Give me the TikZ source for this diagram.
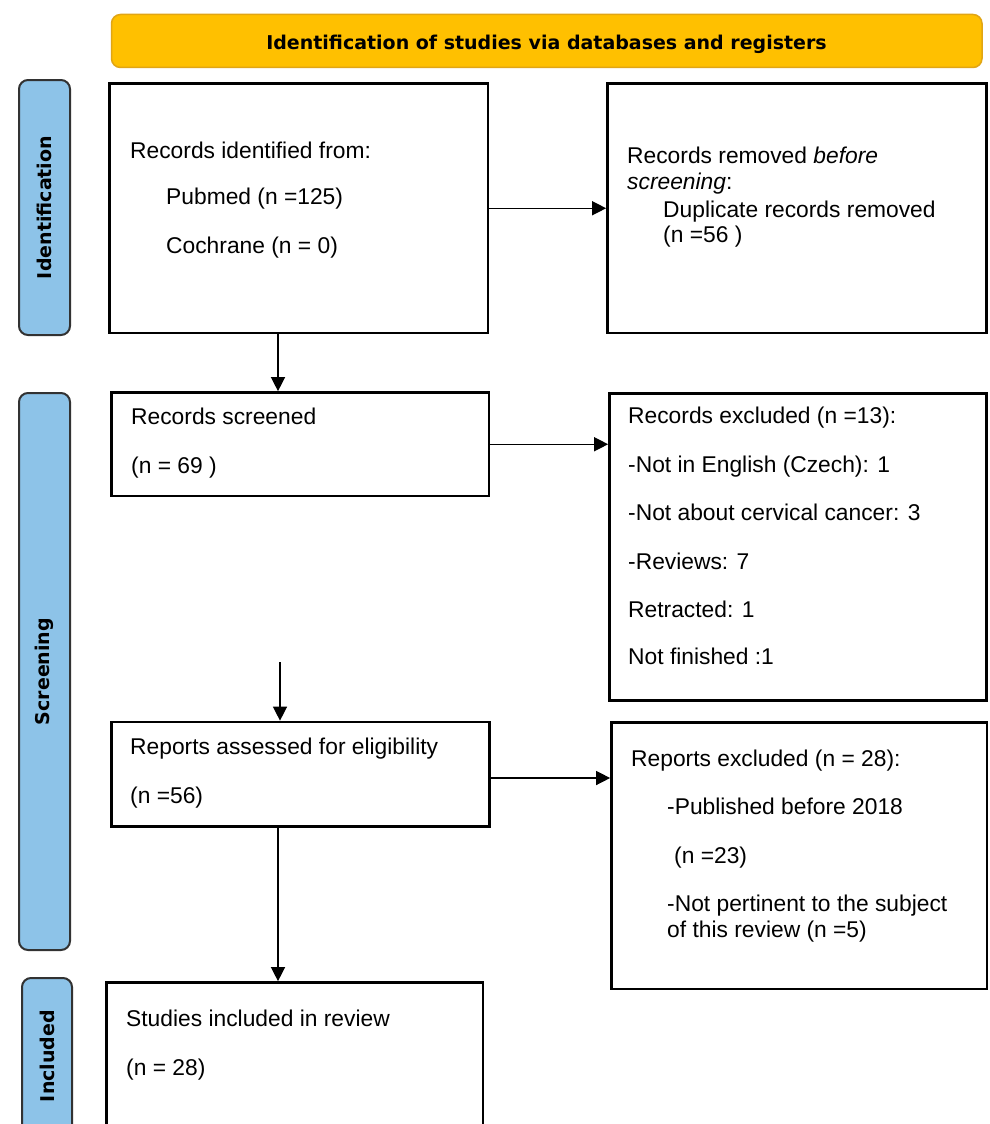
\documentclass[tikz,border=0pt]{standalone}
\usepackage{fontspec}
\setmainfont{Liberation Sans}
\newfontfamily\hdfont{DejaVu Sans}
\usetikzlibrary{arrows.meta,fit}
\definecolor{hdfill}{RGB}{255,192,0}
\definecolor{hddraw}{RGB}{225,165,20}
\definecolor{sidefill}{RGB}{141,195,232}
\definecolor{sidedraw}{RGB}{50,50,50}
\begin{document}
\begin{tikzpicture}[x=1pt,y=-1pt,
 box/.style={draw=black,line width=2.7pt,inner sep=0pt,rectangle},
 hdr/.style={draw=hddraw,fill=hdfill,line width=1.5pt,rounded corners=9pt,inner sep=0pt},
 side/.style={draw=sidedraw,fill=sidefill,line width=2pt,rounded corners=9pt,inner sep=0pt},
 txt/.style={anchor=base west,inner sep=0pt,font=\fontsize{22.8}{27}\selectfont},
 lbl/.style={font=\hdfont\bfseries\fontsize{19}{22}\selectfont,inner sep=0pt},
 arr/.style={-{Triangle[length=14pt,width=14pt]},line width=1.4pt,draw=black}]
\useasboundingbox (0,0) rectangle (989,1124);
\clip (0,0) rectangle (989,1124);
\fill[white] (0,0) rectangle (989,1124);

% header
\node[hdr,fit={(111.5,14.5) (982,67.5)}] (hdr) {};
\node[lbl,anchor=base] (hdrtxt) at (546.5,50) {Identification of studies via databases and registers};

% side labels
\node[side,fit={(19,80) (70,335)}] (sid1) {};
\node[lbl,rotate=90] (sid1t) at (sid1.center) {Identification};
\node[side,fit={(19,393) (70,950)}] (sid2) {};
\node[lbl,rotate=90] (sid2t) at (sid2.center) {Screening};
\node[side,fit={(22,978) (72,1134)}] (sid3) {};
\node[lbl,rotate=90] (sid3t) at (sid3.center) {Included};

% boxes
\node[box,fit={(109.5,83.5) (488,333)}] (b1) {};
\node[box,fit={(607.5,83.5) (986.5,333)}] (b2) {};
\node[box,fit={(111.5,392.5) (489,496)}] (b3) {};
\node[box,fit={(609.5,393.5) (986.5,700.5)}] (b4) {};
\node[box,fit={(111.5,722) (489.5,826.5)}] (b5) {};
\node[box,fit={(611.5,722.5) (987,989)}] (b6) {};
\node[box,fit={(106.5,982.5) (483,1140)}] (b7) {};

% texts
\node[txt] (t11) at (130,158) {Records identified from:};
\node[txt] (t12) at (166,204) {Pubmed (n =125)};
\node[txt] (t13) at (166,253) {Cochrane (n = 0)};

\node[txt] (t21) at (627,163) {Records removed \textit{before}};
\node[txt] (t22) at (627,189) {\textit{screening}:};
\node[txt] (t23) at (663,217) {Duplicate records removed};
\node[txt] (t24) at (663,242) {(n =56 )};

\node[txt] (t31) at (131,424) {Records screened};
\node[txt] (t32) at (131,473) {(n = 69 )};

\node[txt] (t41) at (628,423) {Records excluded (n =13):};
\node[txt] (t42) at (628,472) {-Not in English (Czech): 1};
\node[txt] (t43) at (628,520) {-Not about cervical cancer: 3};
\node[txt] (t44) at (628,569) {-Reviews: 7};
\node[txt] (t45) at (628,617) {Retracted: 1};
\node[txt] (t46) at (628,664) {Not finished :1};

\node[txt] (t51) at (130,754) {Reports assessed for eligibility};
\node[txt] (t52) at (130,803) {(n =56)};

\node[txt] (t61) at (631,766) {Reports excluded (n = 28):};
\node[txt] (t62) at (667,814) {-Published before 2018};
\node[txt] (t63) at (674,863) {(n =23)};
\node[txt] (t64) at (667,911) {-Not pertinent to the subject};
\node[txt] (t65) at (667,937) {of this review (n =5)};

\node[txt] (t71) at (126,1026) {Studies included in review};
\node[txt] (t72) at (126,1075) {(n = 28)};

% connectors
\coordinate (colA) at (278,0);
\coordinate (s5) at (280,662);
\coordinate (y5) at (0,778);
\draw[arr] (b1.east) -- (b2.west);
\draw[arr] (b1.south -| colA) -- (b3.north -| colA);
\draw[arr] (b3.east) -- (b3.east -| b4.west);
\draw[arr] (s5) -- (s5 |- b5.north);
\draw[arr] (b5.east |- y5) -- (b6.west |- y5);
\draw[arr] (b5.south -| colA) -- (b7.north -| colA);
\end{tikzpicture}
\end{document}
